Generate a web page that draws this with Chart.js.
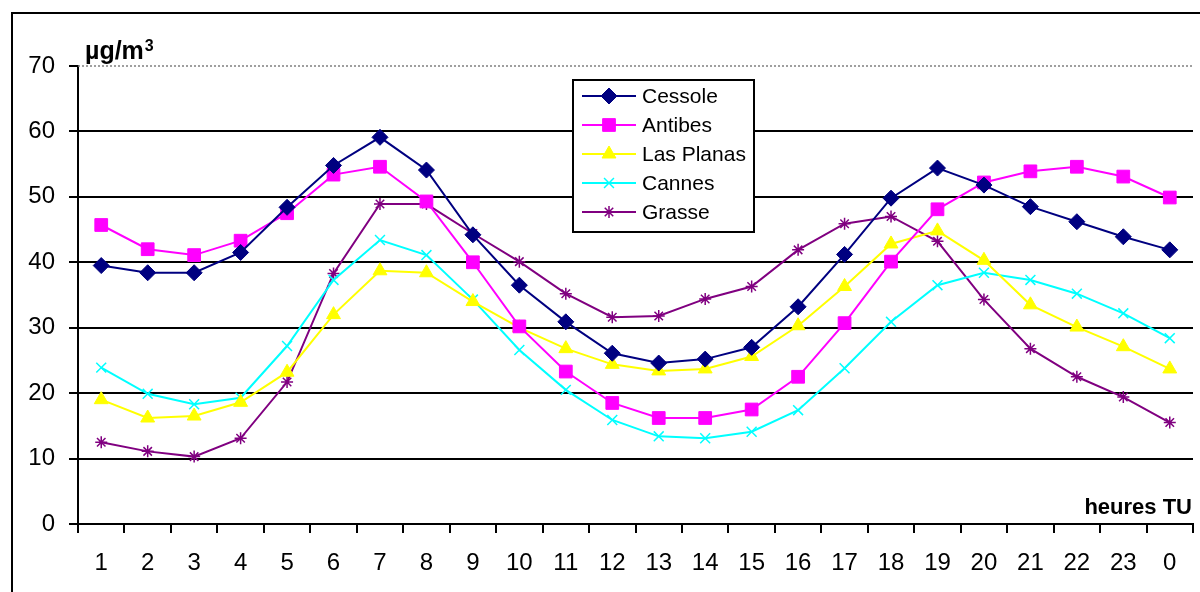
<!DOCTYPE html>
<html>
<head>
<meta charset="utf-8">
<script src="https://cdn.jsdelivr.net/npm/chart.js@4.4.1/dist/chart.umd.min.js"></script>
<style>
  html, body { margin: 0; padding: 0; background: #fff; overflow: hidden; }
  canvas { display: block; }
</style>
</head>
<body>
<canvas id="chart" width="1203" height="592"></canvas>
<script>
// hours (UT) on the x axis
const hours = ['1','2','3','4','5','6','7','8','9','10','11','12','13','14','15','16','17','18','19','20','21','22','23','0'];

// µg/m3 per station
const cessole   = [39.5, 38.4, 38.4, 41.5, 48.4, 54.8, 59.1, 54.1, 44.2, 36.5, 30.9, 26.1, 24.6, 25.2, 27.0, 33.2, 41.2, 49.8, 54.4, 51.8, 48.5, 46.2, 43.9, 41.9];
const antibes   = [45.7, 42.0, 41.1, 43.3, 47.5, 53.4, 54.6, 49.3, 40.0, 30.2, 23.3, 18.5, 16.2, 16.2, 17.5, 22.5, 30.7, 40.1, 48.1, 52.2, 53.9, 54.6, 53.1, 49.9];
const lasPlanas = [19.0, 16.2, 16.5, 18.6, 23.2, 32.0, 38.7, 38.4, 34.0, 30.0, 26.8, 24.4, 23.4, 23.7, 25.6, 30.3, 36.3, 42.8, 44.8, 40.3, 33.5, 30.1, 27.1, 23.7];
const cannes    = [23.9, 19.9, 18.3, 19.3, 27.2, 37.3, 43.4, 41.1, 34.3, 26.6, 20.5, 15.9, 13.4, 13.1, 14.1, 17.4, 23.8, 30.9, 36.5, 38.4, 37.3, 35.2, 32.2, 28.4];
const grasse    = [12.5, 11.1, 10.3, 13.1, 21.7, 38.3, 48.9, 48.9, 44.4, 40.1, 35.2, 31.6, 31.8, 34.4, 36.3, 41.9, 45.9, 47.0, 43.2, 34.3, 26.8, 22.5, 19.4, 15.5];

const FONT = '"Liberation Sans", Arial, sans-serif';
Chart.defaults.font.family = FONT;
Chart.defaults.color = '#000';

function series(label, data, color, style, radius, bw) {
  return {
    label: label,
    data: data,
    borderColor: color,
    backgroundColor: color,
    pointBackgroundColor: color,
    pointBorderColor: color,
    pointStyle: style,
    pointRadius: radius,
    pointHoverRadius: radius,
    pointBorderWidth: bw,
    borderWidth: 2,
    tension: 0
  };
}

// frame, dotted top line, legend box and the two axis captions
const decor = {
  id: 'decor',
  beforeDraw(chart) {
    const ctx = chart.ctx;
    ctx.save();
    ctx.fillStyle = '#fff';
    ctx.fillRect(0, 0, chart.width, chart.height);
    ctx.strokeStyle = '#000';
    ctx.lineWidth = 2;
    ctx.beginPath();
    ctx.moveTo(12, chart.height);
    ctx.lineTo(12, 13);
    ctx.lineTo(chart.width, 13);
    ctx.stroke();
    ctx.restore();
  },
  beforeDatasetsDraw(chart) {
    const ctx = chart.ctx;
    const y = chart.scales.y.getPixelForValue(70);
    ctx.save();
    ctx.strokeStyle = '#808080';
    ctx.lineWidth = 1.5;
    ctx.setLineDash([2, 2]);
    ctx.beginPath();
    ctx.moveTo(chart.chartArea.left, y);
    ctx.lineTo(chart.chartArea.right, y);
    ctx.stroke();
    ctx.restore();
  },
  afterDraw(chart) {
    const ctx = chart.ctx;
    ctx.save();

    // legend
    const bx = 573, by = 80, bw = 181, bh = 152;
    ctx.fillStyle = '#fff';
    ctx.fillRect(bx, by, bw, bh);
    ctx.strokeStyle = '#000';
    ctx.lineWidth = 2;
    ctx.strokeRect(bx, by, bw, bh);
    ctx.font = '21px ' + FONT;
    ctx.textBaseline = 'middle';
    ctx.textAlign = 'left';
    chart.data.datasets.forEach((ds, i) => {
      const y = 96 + i * 29;
      ctx.strokeStyle = ds.borderColor;
      ctx.fillStyle = ds.borderColor;
      ctx.lineWidth = 2;
      ctx.beginPath();
      ctx.moveTo(582, y);
      ctx.lineTo(636, y);
      ctx.stroke();
      ctx.lineWidth = ds.pointBorderWidth;
      Chart.helpers.drawPoint(ctx, {
        pointStyle: ds.pointStyle,
        radius: ds.pointRadius,
        borderWidth: ds.pointBorderWidth,
        rotation: 0
      }, 609, y);
      ctx.fillStyle = '#000';
      ctx.fillText(ds.label, 642, y + 1);
    });

    // unit caption
    ctx.fillStyle = '#000';
    ctx.textBaseline = 'alphabetic';
    ctx.font = 'bold 25px ' + FONT;
    ctx.fillText('µg/m', 85, 59);
    const w = ctx.measureText('µg/m').width;
    ctx.font = 'bold 16px ' + FONT;
    ctx.fillText('3', 85 + w + 1, 51);

    // x caption
    ctx.font = 'bold 22px ' + FONT;
    ctx.textAlign = 'right';
    ctx.fillText('heures TU', 1192, 514);
    ctx.restore();
  }
};

new Chart(document.getElementById('chart'), {
  type: 'line',
  data: {
    labels: hours,
    datasets: [
      series('Cessole', cessole, '#000080', 'rectRot', 8, 1),
      series('Antibes', antibes, '#ff00ff', 'rect', 9, 1),
      series('Las Planas', lasPlanas, '#ffff00', 'triangle', 8, 1),
      series('Cannes', cannes, '#00ffff', 'crossRot', 7, 1.5),
      series('Grasse', grasse, '#800080', 'star', 6, 1.5)
    ]
  },
  options: {
    responsive: false,
    animation: false,
    layout: { padding: { top: 66, left: 0, right: 0, bottom: 0 } },
    plugins: {
      legend: { display: false },
      tooltip: { enabled: false }
    },
    scales: {
      x: {
        offset: true,
        afterFit(scale) { scale.height = 68; },
        grid: {
          offset: true,
          drawOnChartArea: false,
          drawTicks: true,
          tickLength: 9,
          color: '#000',
          lineWidth: 2
        },
        border: { color: '#000', width: 2 },
        ticks: {
          padding: 16,
          maxRotation: 0,
          autoSkip: false,
          font: { size: 24 }
        }
      },
      y: {
        min: 0,
        max: 70,
        afterFit(scale) { scale.width = 78; },
        grid: {
          color: (c) => (c.tick && c.tick.value === 70 ? 'rgba(0,0,0,0)' : '#000'),
          tickColor: '#000',
          lineWidth: 2,
          tickLength: 9
        },
        border: { color: '#000', width: 2 },
        ticks: {
          stepSize: 10,
          padding: 14,
          font: { size: 24 }
        }
      }
    }
  },
  plugins: [decor]
});
</script>
</body>
</html>
